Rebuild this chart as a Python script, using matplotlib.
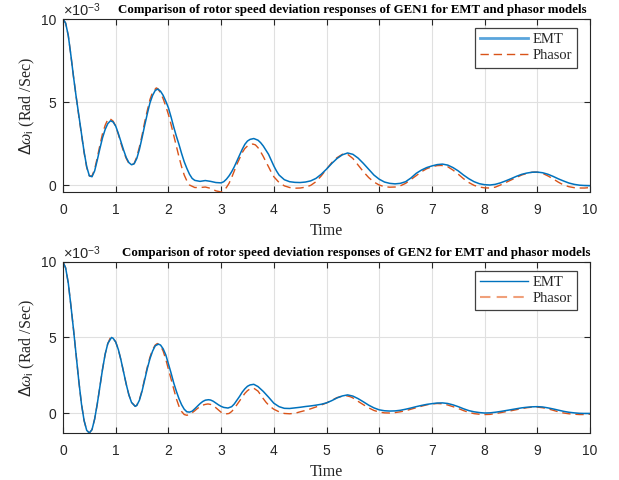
import matplotlib

matplotlib.use("Agg")
import matplotlib.pyplot as plt
from matplotlib.lines import Line2D

plt.rcParams["mathtext.fontset"] = "custom"
plt.rcParams["mathtext.rm"] = "Liberation Sans"
plt.rcParams["mathtext.it"] = "Liberation Serif:italic"

# rotor speed deviation, units of 1e-3 rad/s
gen1_emt_t = [0.0, 0.05, 0.1, 0.15, 0.2, 0.25, 0.3, 0.35, 0.4, 0.45, 0.5, 0.55, 0.6, 0.65, 0.7,
              0.75, 0.8, 0.85, 0.9, 0.95, 1.0, 1.05, 1.1, 1.15, 1.2, 1.25, 1.3, 1.35, 1.4, 1.45,
              1.5, 1.55, 1.6, 1.65, 1.7, 1.75, 1.8, 1.85, 1.9, 1.95, 2.0, 2.05, 2.1, 2.15, 2.2,
              2.25, 2.3, 2.35, 2.4, 2.45, 2.5, 2.6, 2.7, 2.8, 2.9, 3.0, 3.05, 3.1, 3.15, 3.2,
              3.25, 3.3, 3.35, 3.4, 3.45, 3.5, 3.55, 3.62, 3.7, 3.75, 3.8, 3.85, 3.9, 3.95, 4.0,
              4.05, 4.1, 4.2, 4.3, 4.4, 4.5, 4.6, 4.7, 4.8, 4.9, 5.0, 5.1, 5.2, 5.3, 5.4, 5.5,
              5.6, 5.7, 5.8, 5.9, 6.0, 6.1, 6.2, 6.3, 6.4, 6.5, 6.6, 6.7, 6.8, 6.9, 7.0, 7.1,
              7.2, 7.3, 7.4, 7.5, 7.6, 7.7, 7.8, 7.9, 8.0, 8.1, 8.2, 8.3, 8.4, 8.5, 8.6, 8.7,
              8.8, 8.9, 9.0, 9.1, 9.2, 9.3, 9.4, 9.5, 9.6, 9.7, 9.8, 9.9, 10.0]
gen1_emt_v = [10.0, 9.75, 9.0, 7.8, 6.5, 5.3, 4.2, 3.1, 2.0, 1.1, 0.55, 0.5, 0.85, 1.5, 2.2,
              2.85, 3.35, 3.7, 3.87, 3.8, 3.55, 3.1, 2.6, 2.1, 1.65, 1.35, 1.22, 1.28, 1.6, 2.15,
              2.85, 3.6, 4.3, 4.95, 5.4, 5.7, 5.78, 5.65, 5.4, 5.05, 4.65, 4.1, 3.5, 2.95, 2.45,
              1.9, 1.4, 1.0, 0.65, 0.4, 0.28, 0.22, 0.27, 0.22, 0.15, 0.13, 0.2, 0.35, 0.55, 0.8,
              1.1, 1.45, 1.8, 2.15, 2.45, 2.65, 2.75, 2.8, 2.7, 2.55, 2.35, 2.1, 1.85, 1.5, 1.15,
              0.85, 0.6, 0.32, 0.2, 0.16, 0.15, 0.18, 0.25, 0.4, 0.65, 0.96, 1.3, 1.6, 1.82, 1.93, 1.85,
              1.62, 1.3, 0.95, 0.6, 0.35, 0.18, 0.1, 0.07, 0.1, 0.2, 0.42, 0.7, 0.9, 1.05, 1.15, 1.23,
              1.26, 1.2, 1.05, 0.85, 0.6, 0.38, 0.2, 0.08, 0.02, 0.0, 0.04, 0.13, 0.25, 0.38, 0.52, 0.64,
              0.72, 0.77, 0.78, 0.74, 0.65, 0.52, 0.37, 0.24, 0.12, 0.04, -0.01, -0.03, -0.04]

gen1_ph_t = [0.0, 0.05, 0.1, 0.15, 0.2, 0.25, 0.3, 0.35, 0.4, 0.45, 0.5, 0.55, 0.6, 0.65, 0.7,
             0.75, 0.8, 0.85, 0.88, 0.95, 1.0, 1.05, 1.1, 1.15, 1.2, 1.25, 1.3, 1.35, 1.4, 1.45,
             1.5, 1.55, 1.6, 1.65, 1.7, 1.77, 1.8, 1.85, 1.9, 1.95, 2.0, 2.05, 2.1, 2.15, 2.2,
             2.25, 2.3, 2.35, 2.4, 2.5, 2.6, 2.7, 2.8, 2.9, 3.0, 3.05, 3.1, 3.15, 3.2, 3.25,
             3.3, 3.35, 3.4, 3.45, 3.5, 3.6, 3.65, 3.7, 3.75, 3.8, 3.85, 3.9, 3.95, 4.0, 4.1,
             4.2, 4.3, 4.4, 4.5, 4.6, 4.7, 4.8, 4.9, 5.0, 5.1, 5.2, 5.3, 5.35, 5.4, 5.5, 5.6,
             5.7, 5.8, 5.9, 6.0, 6.1, 6.2, 6.3, 6.4, 6.5, 6.6, 6.7, 6.8, 6.9, 7.0, 7.1, 7.18,
             7.3, 7.4, 7.5, 7.6, 7.7, 7.8, 7.9, 8.0, 8.1, 8.2, 8.3, 8.4, 8.5, 8.6, 8.7, 8.8,
             8.9, 8.95, 9.0, 9.1, 9.2, 9.3, 9.4, 9.5, 9.6, 9.7, 9.8, 9.9, 10.0]
gen1_ph_v = [10.0, 9.75, 9.0, 7.8, 6.5, 5.3, 4.15, 3.05, 1.95, 1.05, 0.55, 0.55, 0.95, 1.65, 2.4,
             3.1, 3.6, 3.95, 4.02, 3.85, 3.55, 3.05, 2.5, 2.0, 1.6, 1.3, 1.2, 1.3, 1.7, 2.3,
             3.0, 3.8, 4.5, 5.15, 5.6, 5.85, 5.8, 5.55, 5.2, 4.75, 4.25, 3.65, 3.0, 2.35, 1.7,
             1.1, 0.6, 0.25, 0.0, -0.15, -0.15, -0.12, -0.2, -0.35, -0.42, -0.35, -0.15, 0.1, 0.45, 0.85,
             1.25, 1.6, 1.95, 2.2, 2.35, 2.47, 2.42, 2.25, 2.0, 1.72, 1.4, 1.1, 0.78, 0.5, 0.15,
             -0.05, -0.15, -0.19, -0.18, -0.13, -0.02, 0.2, 0.55, 0.96, 1.35, 1.65, 1.85, 1.89, 1.85, 1.6, 1.2,
             0.8, 0.45, 0.18, 0.0, -0.1, -0.13, -0.12, -0.05, 0.1, 0.33, 0.56, 0.8, 0.98, 1.1, 1.17, 1.18,
             1.1, 0.9, 0.65, 0.38, 0.15, -0.02, -0.12, -0.17, -0.18, -0.13, 0.0, 0.15, 0.3, 0.45, 0.6, 0.7,
             0.77, 0.78, 0.77, 0.7, 0.55, 0.37, 0.17, 0.0, -0.1, -0.16, -0.18, -0.18, -0.15]

gen2_emt_t = [0.0, 0.05, 0.1, 0.15, 0.2, 0.25, 0.3, 0.35, 0.4, 0.45, 0.5, 0.55, 0.6, 0.65, 0.7,
              0.75, 0.8, 0.85, 0.92, 0.95, 1.0, 1.05, 1.1, 1.15, 1.2, 1.25, 1.3, 1.37, 1.4, 1.45,
              1.5, 1.55, 1.6, 1.65, 1.7, 1.75, 1.81, 1.85, 1.9, 1.95, 2.0, 2.05, 2.1, 2.15, 2.2,
              2.25, 2.3, 2.35, 2.4, 2.45, 2.5, 2.55, 2.6, 2.65, 2.7, 2.76, 2.8, 2.85, 2.9, 2.95,
              3.0, 3.05, 3.13, 3.2, 3.25, 3.3, 3.35, 3.4, 3.45, 3.5, 3.55, 3.62, 3.7, 3.8, 3.9,
              4.0, 4.1, 4.2, 4.3, 4.4, 4.5, 4.6, 4.7, 4.8, 4.9, 5.0, 5.1, 5.2, 5.3, 5.4, 5.5,
              5.6, 5.7, 5.8, 5.9, 6.0, 6.1, 6.2, 6.3, 6.4, 6.5, 6.6, 6.7, 6.8, 6.9, 7.0, 7.1,
              7.2, 7.3, 7.4, 7.5, 7.6, 7.7, 7.8, 7.9, 8.0, 8.1, 8.2, 8.3, 8.4, 8.5, 8.6, 8.7,
              8.8, 8.9, 9.0, 9.1, 9.2, 9.3, 9.4, 9.5, 9.6, 9.7, 9.8, 9.9, 10.0]
gen2_emt_v = [10.0, 9.6, 8.6, 7.1, 5.5, 3.8, 2.1, 0.6, -0.5, -1.15, -1.32, -1.1, -0.4, 0.6, 1.75,
              2.9, 3.9, 4.6, 5.0, 4.95, 4.7, 4.2, 3.5, 2.7, 1.9, 1.2, 0.7, 0.44, 0.5, 0.85,
              1.45, 2.2, 2.95, 3.6, 4.1, 4.45, 4.56, 4.5, 4.25, 3.85, 3.25, 2.65, 2.0, 1.45, 0.95,
              0.55, 0.25, 0.08, 0.06, 0.12, 0.28, 0.45, 0.62, 0.76, 0.85, 0.88, 0.86, 0.78, 0.66, 0.54,
              0.44, 0.37, 0.33, 0.42, 0.6, 0.85, 1.1, 1.38, 1.6, 1.77, 1.86, 1.9, 1.75, 1.43, 1.05,
              0.65, 0.42, 0.31, 0.3, 0.34, 0.38, 0.43, 0.47, 0.52, 0.58, 0.67, 0.82, 1.0, 1.13, 1.2, 1.12,
              0.95, 0.74, 0.52, 0.34, 0.21, 0.15, 0.13, 0.14, 0.18, 0.25, 0.33, 0.42, 0.5, 0.57, 0.62, 0.66,
              0.67, 0.63, 0.54, 0.42, 0.28, 0.16, 0.08, 0.03, 0.0, 0.01, 0.05, 0.1, 0.16, 0.22, 0.28, 0.34,
              0.38, 0.41, 0.42, 0.4, 0.34, 0.27, 0.19, 0.11, 0.05, 0.01, -0.02, -0.03, -0.03]

gen2_ph_t = [0.0, 0.05, 0.1, 0.15, 0.2, 0.25, 0.3, 0.35, 0.4, 0.45, 0.5, 0.55, 0.6, 0.65, 0.7,
             0.75, 0.8, 0.85, 0.9, 0.95, 1.0, 1.05, 1.1, 1.15, 1.2, 1.25, 1.3, 1.37, 1.4, 1.45,
             1.5, 1.55, 1.6, 1.65, 1.7, 1.75, 1.79, 1.85, 1.9, 1.95, 2.0, 2.05, 2.1, 2.15, 2.2,
             2.25, 2.3, 2.35, 2.4, 2.45, 2.5, 2.55, 2.6, 2.65, 2.7, 2.75, 2.8, 2.85, 2.9, 2.95,
             3.0, 3.07, 3.15, 3.2, 3.25, 3.3, 3.35, 3.4, 3.45, 3.5, 3.55, 3.62, 3.7, 3.75, 3.8,
             3.85, 3.9, 3.95, 4.0, 4.1, 4.2, 4.3, 4.4, 4.5, 4.6, 4.7, 4.8, 4.9, 5.0, 5.1, 5.2,
             5.3, 5.37, 5.45, 5.5, 5.6, 5.7, 5.8, 5.9, 6.0, 6.1, 6.2, 6.3, 6.4, 6.5, 6.6, 6.7,
             6.8, 6.9, 7.0, 7.1, 7.2, 7.3, 7.4, 7.5, 7.6, 7.7, 7.8, 7.9, 8.0, 8.1, 8.2, 8.3,
             8.4, 8.5, 8.6, 8.7, 8.8, 8.9, 8.95, 9.0, 9.1, 9.2, 9.3, 9.4, 9.5, 9.6, 9.7, 9.8,
             9.9, 10.0]
gen2_ph_v = [10.0, 9.6, 8.6, 7.1, 5.5, 3.8, 2.1, 0.6, -0.5, -1.15, -1.32, -1.1, -0.4, 0.6, 1.75,
             2.9, 3.9, 4.6, 5.0, 4.95, 4.7, 4.2, 3.5, 2.7, 1.9, 1.2, 0.7, 0.45, 0.52, 0.9,
             1.5, 2.3, 3.05, 3.7, 4.2, 4.5, 4.6, 4.45, 4.1, 3.55, 2.9, 2.25, 1.6, 0.95, 0.45,
             0.1, -0.1, -0.15, -0.1, 0.02, 0.15, 0.3, 0.42, 0.52, 0.57, 0.6, 0.57, 0.48, 0.35, 0.2,
             0.05, -0.07, -0.03, 0.1, 0.3, 0.55, 0.8, 1.05, 1.3, 1.48, 1.6, 1.64, 1.45, 1.2, 0.95,
             0.72, 0.53, 0.38, 0.25, 0.08, -0.03, -0.05, -0.02, 0.08, 0.17, 0.28, 0.4, 0.53, 0.67, 0.85, 1.02,
             1.12, 1.15, 1.08, 1.0, 0.77, 0.55, 0.34, 0.17, 0.06, 0.01, 0.0, 0.03, 0.08, 0.15, 0.25, 0.35,
             0.45, 0.54, 0.6, 0.63, 0.61, 0.53, 0.42, 0.3, 0.16, 0.04, -0.04, -0.08, -0.1, -0.09, -0.04, 0.02,
             0.09, 0.15, 0.22, 0.29, 0.35, 0.39, 0.4, 0.39, 0.35, 0.28, 0.18, 0.08, 0.0, -0.05, -0.08, -0.1,
             -0.1, -0.08]

TITLES = [
    "Comparison of rotor speed deviation responses of GEN1 for EMT and phasor models",
    "Comparison of rotor speed deviation responses of GEN2 for EMT and phasor models",
]
X_TICKS = list(range(0, 11))
Y_TICKS = [0, 5, 10]
EMT_COLOR = "#0072BD"
PH_COLOR = "#D95319"
TXT = "#262626"

fig = plt.figure(figsize=(6.19, 4.8), dpi=100)
ax1 = fig.add_axes([0.1018, 0.600, 0.8514, 0.3604])
ax2 = fig.add_axes([0.1018, 0.098, 0.8514, 0.3563])

panels = [
    (ax1, gen1_emt_t, gen1_emt_v, gen1_ph_t, gen1_ph_v, TITLES[0], 0.548),
    (ax2, gen2_emt_t, gen2_emt_v, gen2_ph_t, gen2_ph_v, TITLES[1], 0.556),
]

for i, (ax, et, ev, pt, pv, title, tx) in enumerate(panels):
    ax.plot(pt, pv, color=PH_COLOR, linewidth=1.0, dashes=(6, 3.5), label="Phasor")
    ax.plot(et, ev, color=EMT_COLOR, linewidth=1.1, label="EMT")
    ax.set_xlim(0, 10)
    ax.set_ylim(min(min(ev), min(pv)), max(max(ev), max(pv)))
    ax.set_xticks(X_TICKS)
    ax.set_yticks(Y_TICKS)
    ax.grid(True, color="#e0e0e0", linewidth=0.8)
    ax.set_axisbelow(True)
    ax.tick_params(direction="in", length=4, width=0.8, colors=TXT, labelsize=10,
                   top=True, right=True)
    ax.tick_params(axis="x", pad=8)
    ax.tick_params(axis="y", pad=5)
    for lab in ax.get_xticklabels() + ax.get_yticklabels():
        lab.set_family("Liberation Sans")
    for sp in ax.spines.values():
        sp.set_color(TXT)
        sp.set_linewidth(0.8)
    ax.set_title(title, x=tx, fontsize=9.3, fontweight="bold", family="Liberation Serif",
                 color="black", pad=4)
    ax.set_xlabel("Time", family="Liberation Serif", fontsize=11.5, color=TXT, labelpad=4)
    ax.set_ylabel(r"$\Delta\mathit{\omega}_{\mathrm{i}}$ (Rad /Sec)", family="Liberation Serif",
                  fontsize=11.5, color=TXT, labelpad=3)
    ax.text(0.0, 1.0, r"$\times10^{-3}$", transform=ax.transAxes, ha="left", va="bottom",
            fontsize=10.5, color=TXT)
    if i == 0:
        handles = [Line2D([], [], color="#5aa5dc", linewidth=2.0),
                   Line2D([], [], color=PH_COLOR, linewidth=1.0, dashes=(6, 3.5))]
    else:
        handles = [Line2D([], [], color=EMT_COLOR, linewidth=1.0),
                   Line2D([], [], color="#f0a07a", linewidth=1.5, dashes=(5, 3))]
    leg = ax.legend(handles, ["EMT", "Phasor"], loc="upper right",
                    bbox_to_anchor=(1 - 13 / 527, 1 - 9 / 172), borderaxespad=0,
                    fancybox=False, framealpha=1, edgecolor="#404040",
                    prop={"family": "Liberation Serif", "size": 10.5},
                    handlelength=3.3, handletextpad=0.3, borderpad=0.35, labelspacing=0.2)
    leg.get_frame().set_linewidth(0.9)
    for t in leg.get_texts():
        t.set_color(TXT)

fig.savefig("out.png", dpi=100)
